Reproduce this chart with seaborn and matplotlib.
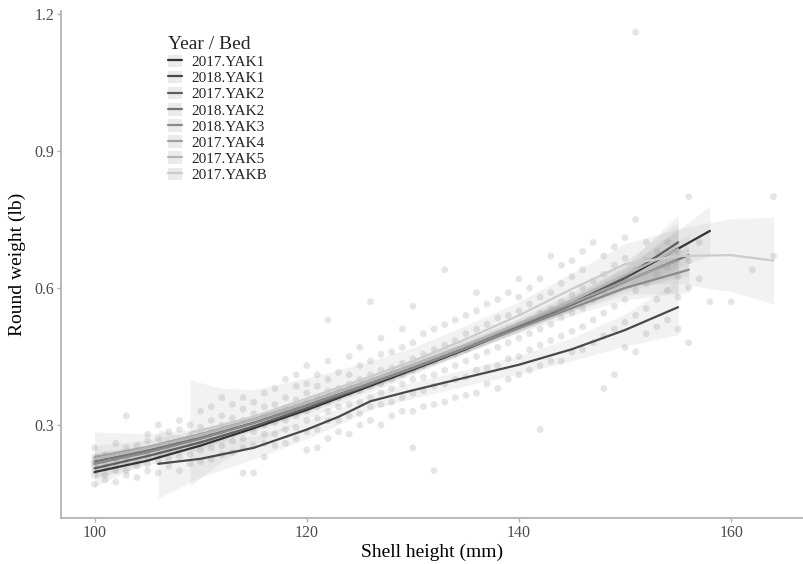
import numpy as np
import pandas as pd
import seaborn as sns
import matplotlib.pyplot as plt
from matplotlib.lines import Line2D
from matplotlib.patches import Patch

# ---- legend order / colours (grey scale, dark -> light)
beds = ["2017.YAK1", "2018.YAK1", "2017.YAK2", "2018.YAK2",
        "2018.YAK3", "2017.YAK4", "2017.YAK5", "2017.YAKB"]
bed_colors = ["#333333", "#494949", "#5f5f5f", "#747474",
              "#8a8a8a", "#a0a0a0", "#b6b6b6", "#cccccc"]

# ---- smoothed fits (height mm, weight lb, half width of band)
yak1_17_x = [100, 105, 110, 115, 120, 125, 130, 135, 140, 145, 150, 155, 158]
yak1_17_y = [0.197, 0.222, 0.255, 0.293, 0.333, 0.377, 0.421, 0.466, 0.514, 0.566, 0.622, 0.686, 0.725]
yak1_17_se = [0.015, 0.010, 0.008, 0.007, 0.007, 0.007, 0.007, 0.008, 0.009, 0.012, 0.020, 0.040, 0.055]

yak1_18_x = [106, 110, 115, 120, 123, 126, 130, 135, 140, 145, 150, 155]
yak1_18_y = [0.215, 0.226, 0.250, 0.290, 0.318, 0.352, 0.376, 0.404, 0.432, 0.466, 0.508, 0.558]
yak1_18_se = [0.075, 0.040, 0.025, 0.020, 0.018, 0.018, 0.018, 0.018, 0.020, 0.025, 0.035, 0.060]

yak2_17_x = [100, 105, 110, 115, 120, 125, 130, 135, 140, 145, 150, 155]
yak2_17_y = [0.205, 0.232, 0.262, 0.297, 0.337, 0.380, 0.424, 0.468, 0.515, 0.566, 0.623, 0.700]
yak2_17_se = [0.020, 0.012, 0.010, 0.008, 0.008, 0.008, 0.008, 0.009, 0.010, 0.015, 0.025, 0.060]

yak2_18_x = [100, 105, 110, 115, 120, 125, 130, 135, 140, 145, 150, 156]
yak2_18_y = [0.220, 0.244, 0.272, 0.305, 0.343, 0.383, 0.425, 0.468, 0.514, 0.563, 0.614, 0.672]
yak2_18_se = [0.020, 0.012, 0.010, 0.008, 0.008, 0.008, 0.008, 0.008, 0.010, 0.014, 0.022, 0.045]

yak3_18_x = [100, 105, 110, 115, 120, 125, 130, 135, 140, 145, 150, 156]
yak3_18_y = [0.215, 0.240, 0.270, 0.304, 0.342, 0.382, 0.424, 0.468, 0.512, 0.556, 0.600, 0.640]
yak3_18_se = [0.022, 0.013, 0.010, 0.008, 0.008, 0.008, 0.008, 0.009, 0.011, 0.016, 0.026, 0.050]

yak4_17_x = [100, 105, 110, 115, 120, 125, 130, 135, 140, 145, 150, 155]
yak4_17_y = [0.230, 0.252, 0.280, 0.313, 0.350, 0.390, 0.432, 0.475, 0.520, 0.567, 0.615, 0.660]
yak4_17_se = [0.025, 0.015, 0.011, 0.009, 0.009, 0.009, 0.009, 0.010, 0.012, 0.018, 0.030, 0.070]

yak5_17_x = [100, 105, 110, 115, 120, 125, 130, 135, 140, 145, 150, 155]
yak5_17_y = [0.225, 0.250, 0.278, 0.312, 0.350, 0.390, 0.432, 0.476, 0.523, 0.573, 0.628, 0.685]
yak5_17_se = [0.060, 0.030, 0.015, 0.010, 0.009, 0.009, 0.009, 0.010, 0.012, 0.018, 0.030, 0.060]

yakb_17_x = [109, 112, 115, 120, 125, 130, 135, 140, 145, 150, 155, 160, 164]
yakb_17_y = [0.283, 0.300, 0.318, 0.358, 0.398, 0.440, 0.488, 0.540, 0.598, 0.652, 0.670, 0.672, 0.660]
yakb_17_se = [0.116, 0.080, 0.060, 0.045, 0.035, 0.030, 0.030, 0.030, 0.035, 0.045, 0.060, 0.080, 0.095]

# ---- raw measurements: one column of weights (lb) per shell height (mm)
column_heights = list(range(100, 158)) + [158, 160, 162, 164]
column_weights = [
    [0.17, 0.19, 0.20, 0.21, 0.215, 0.22, 0.23, 0.25],
    [0.18, 0.19, 0.205, 0.22, 0.235],
    [0.175, 0.20, 0.21, 0.225, 0.26],
    [0.19, 0.20, 0.22, 0.23, 0.25, 0.32],
    [0.185, 0.21, 0.22, 0.24, 0.255],
    [0.20, 0.215, 0.23, 0.24, 0.265, 0.28],
    [0.195, 0.22, 0.235, 0.25, 0.27, 0.30],
    [0.21, 0.225, 0.245, 0.26, 0.285],
    [0.20, 0.23, 0.245, 0.265, 0.29, 0.31],
    [0.215, 0.235, 0.255, 0.275, 0.30],
    [0.22, 0.245, 0.26, 0.28, 0.295, 0.33],
    [0.225, 0.25, 0.27, 0.285, 0.31, 0.34],
    [0.235, 0.255, 0.28, 0.30, 0.32, 0.36],
    [0.24, 0.265, 0.28, 0.295, 0.315, 0.345],
    [0.195, 0.25, 0.27, 0.29, 0.31, 0.335, 0.36],
    [0.195, 0.255, 0.285, 0.30, 0.325, 0.35],
    [0.23, 0.26, 0.28, 0.30, 0.32, 0.34, 0.37],
    [0.255, 0.28, 0.305, 0.32, 0.345, 0.38],
    [0.26, 0.29, 0.31, 0.335, 0.36, 0.40],
    [0.27, 0.295, 0.32, 0.34, 0.355, 0.385, 0.41],
    [0.245, 0.285, 0.31, 0.33, 0.35, 0.37, 0.39, 0.43],
    [0.25, 0.29, 0.315, 0.34, 0.36, 0.385, 0.41],
    [0.27, 0.31, 0.33, 0.35, 0.375, 0.40, 0.44, 0.53],
    [0.285, 0.31, 0.34, 0.36, 0.38, 0.415],
    [0.28, 0.32, 0.345, 0.37, 0.39, 0.41, 0.45],
    [0.30, 0.325, 0.35, 0.375, 0.40, 0.43, 0.47],
    [0.31, 0.34, 0.36, 0.385, 0.41, 0.44, 0.57],
    [0.30, 0.345, 0.37, 0.39, 0.42, 0.455, 0.49],
    [0.32, 0.35, 0.38, 0.40, 0.425, 0.46],
    [0.33, 0.36, 0.39, 0.41, 0.435, 0.47, 0.51],
    [0.25, 0.33, 0.37, 0.40, 0.42, 0.445, 0.48, 0.56],
    [0.34, 0.375, 0.405, 0.43, 0.455, 0.50],
    [0.20, 0.345, 0.385, 0.41, 0.44, 0.465, 0.51],
    [0.35, 0.39, 0.42, 0.45, 0.475, 0.52, 0.64],
    [0.36, 0.40, 0.43, 0.455, 0.485, 0.53],
    [0.365, 0.405, 0.44, 0.465, 0.50, 0.54],
    [0.37, 0.42, 0.45, 0.48, 0.51, 0.55, 0.59],
    [0.39, 0.425, 0.46, 0.49, 0.52, 0.565],
    [0.38, 0.43, 0.47, 0.50, 0.535, 0.575],
    [0.40, 0.445, 0.48, 0.51, 0.54, 0.59],
    [0.41, 0.45, 0.49, 0.52, 0.55, 0.58, 0.62],
    [0.42, 0.465, 0.50, 0.53, 0.565, 0.60],
    [0.29, 0.43, 0.475, 0.51, 0.545, 0.58, 0.62],
    [0.44, 0.485, 0.52, 0.555, 0.59, 0.67],
    [0.44, 0.495, 0.535, 0.57, 0.61, 0.65],
    [0.46, 0.505, 0.545, 0.585, 0.625, 0.66],
    [0.465, 0.515, 0.555, 0.60, 0.64, 0.68],
    [0.48, 0.53, 0.575, 0.615, 0.70],
    [0.38, 0.495, 0.545, 0.59, 0.63, 0.67],
    [0.41, 0.51, 0.56, 0.605, 0.65, 0.69],
    [0.47, 0.525, 0.575, 0.62, 0.665, 0.71],
    [0.46, 0.54, 0.595, 0.64, 0.75, 1.16],
    [0.50, 0.555, 0.61, 0.66, 0.70],
    [0.515, 0.575, 0.63, 0.68],
    [0.53, 0.595, 0.645, 0.70],
    [0.51, 0.58, 0.625, 0.68],
    [0.48, 0.60, 0.66, 0.80],
    [0.62, 0.70],
    [0.57],
    [0.57],
    [0.64],
    [0.67, 0.80],
]

fits = [
    (yak1_17_x, yak1_17_y, yak1_17_se),
    (yak1_18_x, yak1_18_y, yak1_18_se),
    (yak2_17_x, yak2_17_y, yak2_17_se),
    (yak2_18_x, yak2_18_y, yak2_18_se),
    (yak3_18_x, yak3_18_y, yak3_18_se),
    (yak4_17_x, yak4_17_y, yak4_17_se),
    (yak5_17_x, yak5_17_y, yak5_17_se),
    (yakb_17_x, yakb_17_y, yakb_17_se),
]
rows = []
for bed, (xs, ys, ses) in zip(beds, fits):
    for x, y, s in zip(xs, ys, ses):
        rows.append({"bed": bed, "height": x, "weight": y, "lo": y - s, "hi": y + s})
fit_df = pd.DataFrame(rows)

pts = pd.DataFrame([(h, w) for h, ws in zip(column_heights, column_weights) for w in ws],
                   columns=["height", "weight"])

sns.set_theme(style="ticks")
plt.rcParams["font.family"] = ["Liberation Serif", "DejaVu Serif"]

fig = plt.figure(figsize=(8.04, 5.64), dpi=100)
ax = fig.add_axes([0.0759, 0.0816, 0.9241, 0.8989])

sns.scatterplot(data=pts, x="height", y="weight", color="#9a9a9a", alpha=0.25,
                s=24, edgecolor="none", ax=ax, zorder=1)

for bed in beds:
    d = fit_df[fit_df["bed"] == bed]
    ax.fill_between(d["height"], d["lo"], d["hi"], color="#999999", alpha=0.12,
                    linewidth=0, zorder=2)

sns.lineplot(data=fit_df, x="height", y="weight", hue="bed", hue_order=beds,
             palette=bed_colors, estimator=None, sort=False, lw=1.6, legend=False,
             ax=ax, zorder=3)

ax.set_xlim(96.84, 166.87)
ax.set_ylim(0.0964, 1.2066)
ax.set_xticks([100, 120, 140, 160])
ax.set_yticks([0.3, 0.6, 0.9, 1.2])
ax.set_yticklabels(["0.3", "0.6", "0.9", "1.2"])
ax.set_xlabel("Shell height (mm)", fontsize=14, color="black", labelpad=2)
ax.set_ylabel("Round weight (lb)", fontsize=14, color="black", labelpad=6)
ax.tick_params(axis="both", colors="#b3b3b3", labelcolor="#4d4d4d",
               labelsize=11.5, length=3, width=1, pad=2)
sns.despine(ax=ax)
for sp in ["left", "bottom"]:
    ax.spines[sp].set_color("#b3b3b3")
    ax.spines[sp].set_linewidth(1.3)

handles = [(Patch(facecolor="#ebebeb", edgecolor="none"),
            Line2D([], [], color=c, lw=1.6)) for c in bed_colors]
leg = ax.legend(handles, beds, title="Year / Bed", loc="upper left",
                bbox_to_anchor=(168 / 804, 1 - 36 / 564), bbox_transform=fig.transFigure,
                frameon=False, fontsize=11, title_fontsize=14, handlelength=0.9,
                handleheight=0.9, handletextpad=0.6, labelspacing=0.1,
                borderpad=0, borderaxespad=0)
leg._legend_box.align = "left"

fig.savefig("out.png", dpi=100)
